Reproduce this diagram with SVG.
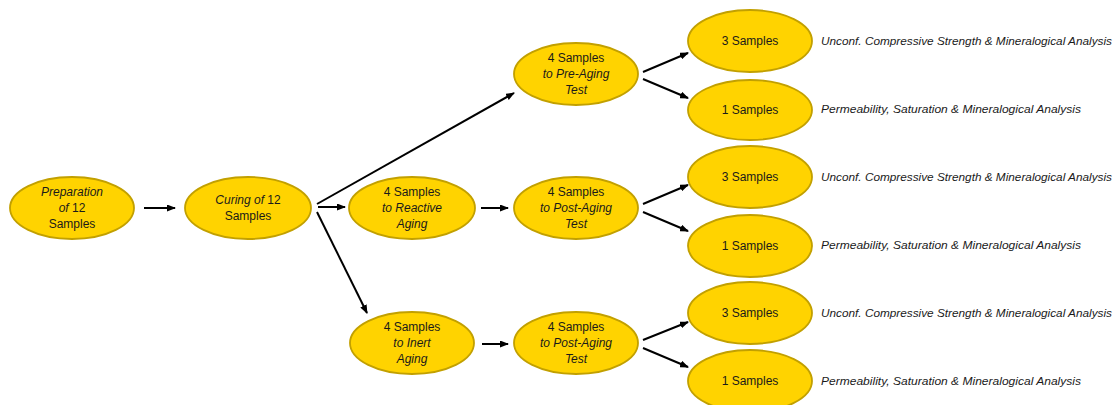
<svg xmlns="http://www.w3.org/2000/svg" width="1116" height="405" viewBox="0 0 1116 405">
<style>
.node ellipse{fill:#FFD300;stroke:#C2A000;stroke-width:1.8}
.node text{font-family:"Liberation Sans",Arial,sans-serif;font-size:12px;fill:#1a1a1a;text-anchor:middle}
.it{font-style:italic}
.lbl{font-family:"Liberation Sans",Arial,sans-serif;font-size:11px;font-style:italic;fill:#1a1a1a}
.conn line{stroke:#000;stroke-width:2;marker-end:url(#ah)}
</style>
<defs>
<marker id="ah" markerUnits="userSpaceOnUse" markerWidth="9" markerHeight="7" refX="8" refY="3.5" orient="auto">
<path d="M0,0 L9,3.5 L0,7 z" fill="#000"/>
</marker>
</defs>
<rect width="1116" height="405" fill="#fff"/>
<g id="connectors" class="conn">
<line x1="144" y1="208" x2="175" y2="208"/>
<line x1="318" y1="207" x2="345" y2="207"/>
<line x1="317" y1="204" x2="514" y2="93"/>
<line x1="317" y1="212" x2="367" y2="313"/>
<line x1="481" y1="208" x2="508" y2="208"/>
<line x1="482" y1="344" x2="508" y2="344"/>
<line x1="643" y1="72" x2="688" y2="53"/>
<line x1="643" y1="79" x2="688" y2="98"/>
<line x1="643" y1="204" x2="688" y2="185"/>
<line x1="643" y1="212" x2="688" y2="231"/>
<line x1="643" y1="340" x2="688" y2="322"/>
<line x1="643" y1="348" x2="688" y2="367"/>
</g>
<g id="n-prep" class="node">
<ellipse cx="72" cy="208" rx="62" ry="31"/>
<text x="72" y="196" class="it">Preparation</text>
<text x="72" y="212"><tspan class="it">of</tspan> 12</text>
<text x="72" y="228">Samples</text>
</g>
<g id="n-curing" class="node">
<ellipse cx="248" cy="208" rx="63" ry="31"/>
<text x="248" y="204"><tspan class="it">Curing of</tspan> 12</text>
<text x="248" y="220">Samples</text>
</g>
<g id="n-reactive" class="node">
<ellipse cx="412" cy="208" rx="63" ry="31"/>
<text x="412" y="196">4 Samples</text>
<text x="412" y="212" class="it">to Reactive</text>
<text x="412" y="228" class="it">Aging</text>
</g>
<g id="n-inert" class="node">
<ellipse cx="412" cy="343" rx="62" ry="31"/>
<text x="412" y="331">4 Samples</text>
<text x="412" y="347" class="it">to Inert</text>
<text x="412" y="363" class="it">Aging</text>
</g>
<g id="n-preaging" class="node">
<ellipse cx="576" cy="74" rx="62" ry="31"/>
<text x="576" y="62">4 Samples</text>
<text x="576" y="78" class="it">to Pre-Aging</text>
<text x="576" y="94" class="it">Test</text>
</g>
<g id="n-postaging1" class="node">
<ellipse cx="576" cy="208" rx="62" ry="31"/>
<text x="576" y="196">4 Samples</text>
<text x="576" y="212" class="it">to Post-Aging</text>
<text x="576" y="228" class="it">Test</text>
</g>
<g id="n-postaging2" class="node">
<ellipse cx="576" cy="343" rx="62" ry="31"/>
<text x="576" y="331">4 Samples</text>
<text x="576" y="347" class="it">to Post-Aging</text>
<text x="576" y="363" class="it">Test</text>
</g>
<g id="n-3s-a" class="node">
<ellipse cx="750" cy="41" rx="62" ry="31"/>
<text x="750" y="45">3 Samples</text>
</g>
<g id="n-1s-a" class="node">
<ellipse cx="750" cy="110" rx="62" ry="30"/>
<text x="750" y="114">1 Samples</text>
</g>
<g id="n-3s-b" class="node">
<ellipse cx="750" cy="177" rx="62" ry="31"/>
<text x="750" y="181">3 Samples</text>
</g>
<g id="n-1s-b" class="node">
<ellipse cx="750" cy="246" rx="62" ry="31"/>
<text x="750" y="250">1 Samples</text>
</g>
<g id="n-3s-c" class="node">
<ellipse cx="750" cy="313" rx="62" ry="31"/>
<text x="750" y="317">3 Samples</text>
</g>
<g id="n-1s-c" class="node">
<ellipse cx="750" cy="381" rx="62" ry="31"/>
<text x="750" y="385">1 Samples</text>
</g>
<g id="labels">
<text class="lbl" x="821" y="45" textLength="291" lengthAdjust="spacingAndGlyphs">Unconf. Compressive Strength &amp; Mineralogical Analysis</text>
<text class="lbl" x="821" y="113" textLength="260" lengthAdjust="spacingAndGlyphs">Permeability, Saturation &amp; Mineralogical Analysis</text>
<text class="lbl" x="821" y="181" textLength="291" lengthAdjust="spacingAndGlyphs">Unconf. Compressive Strength &amp; Mineralogical Analysis</text>
<text class="lbl" x="821" y="249" textLength="260" lengthAdjust="spacingAndGlyphs">Permeability, Saturation &amp; Mineralogical Analysis</text>
<text class="lbl" x="821" y="317" textLength="291" lengthAdjust="spacingAndGlyphs">Unconf. Compressive Strength &amp; Mineralogical Analysis</text>
<text class="lbl" x="821" y="385" textLength="260" lengthAdjust="spacingAndGlyphs">Permeability, Saturation &amp; Mineralogical Analysis</text>
</g>
</svg>
